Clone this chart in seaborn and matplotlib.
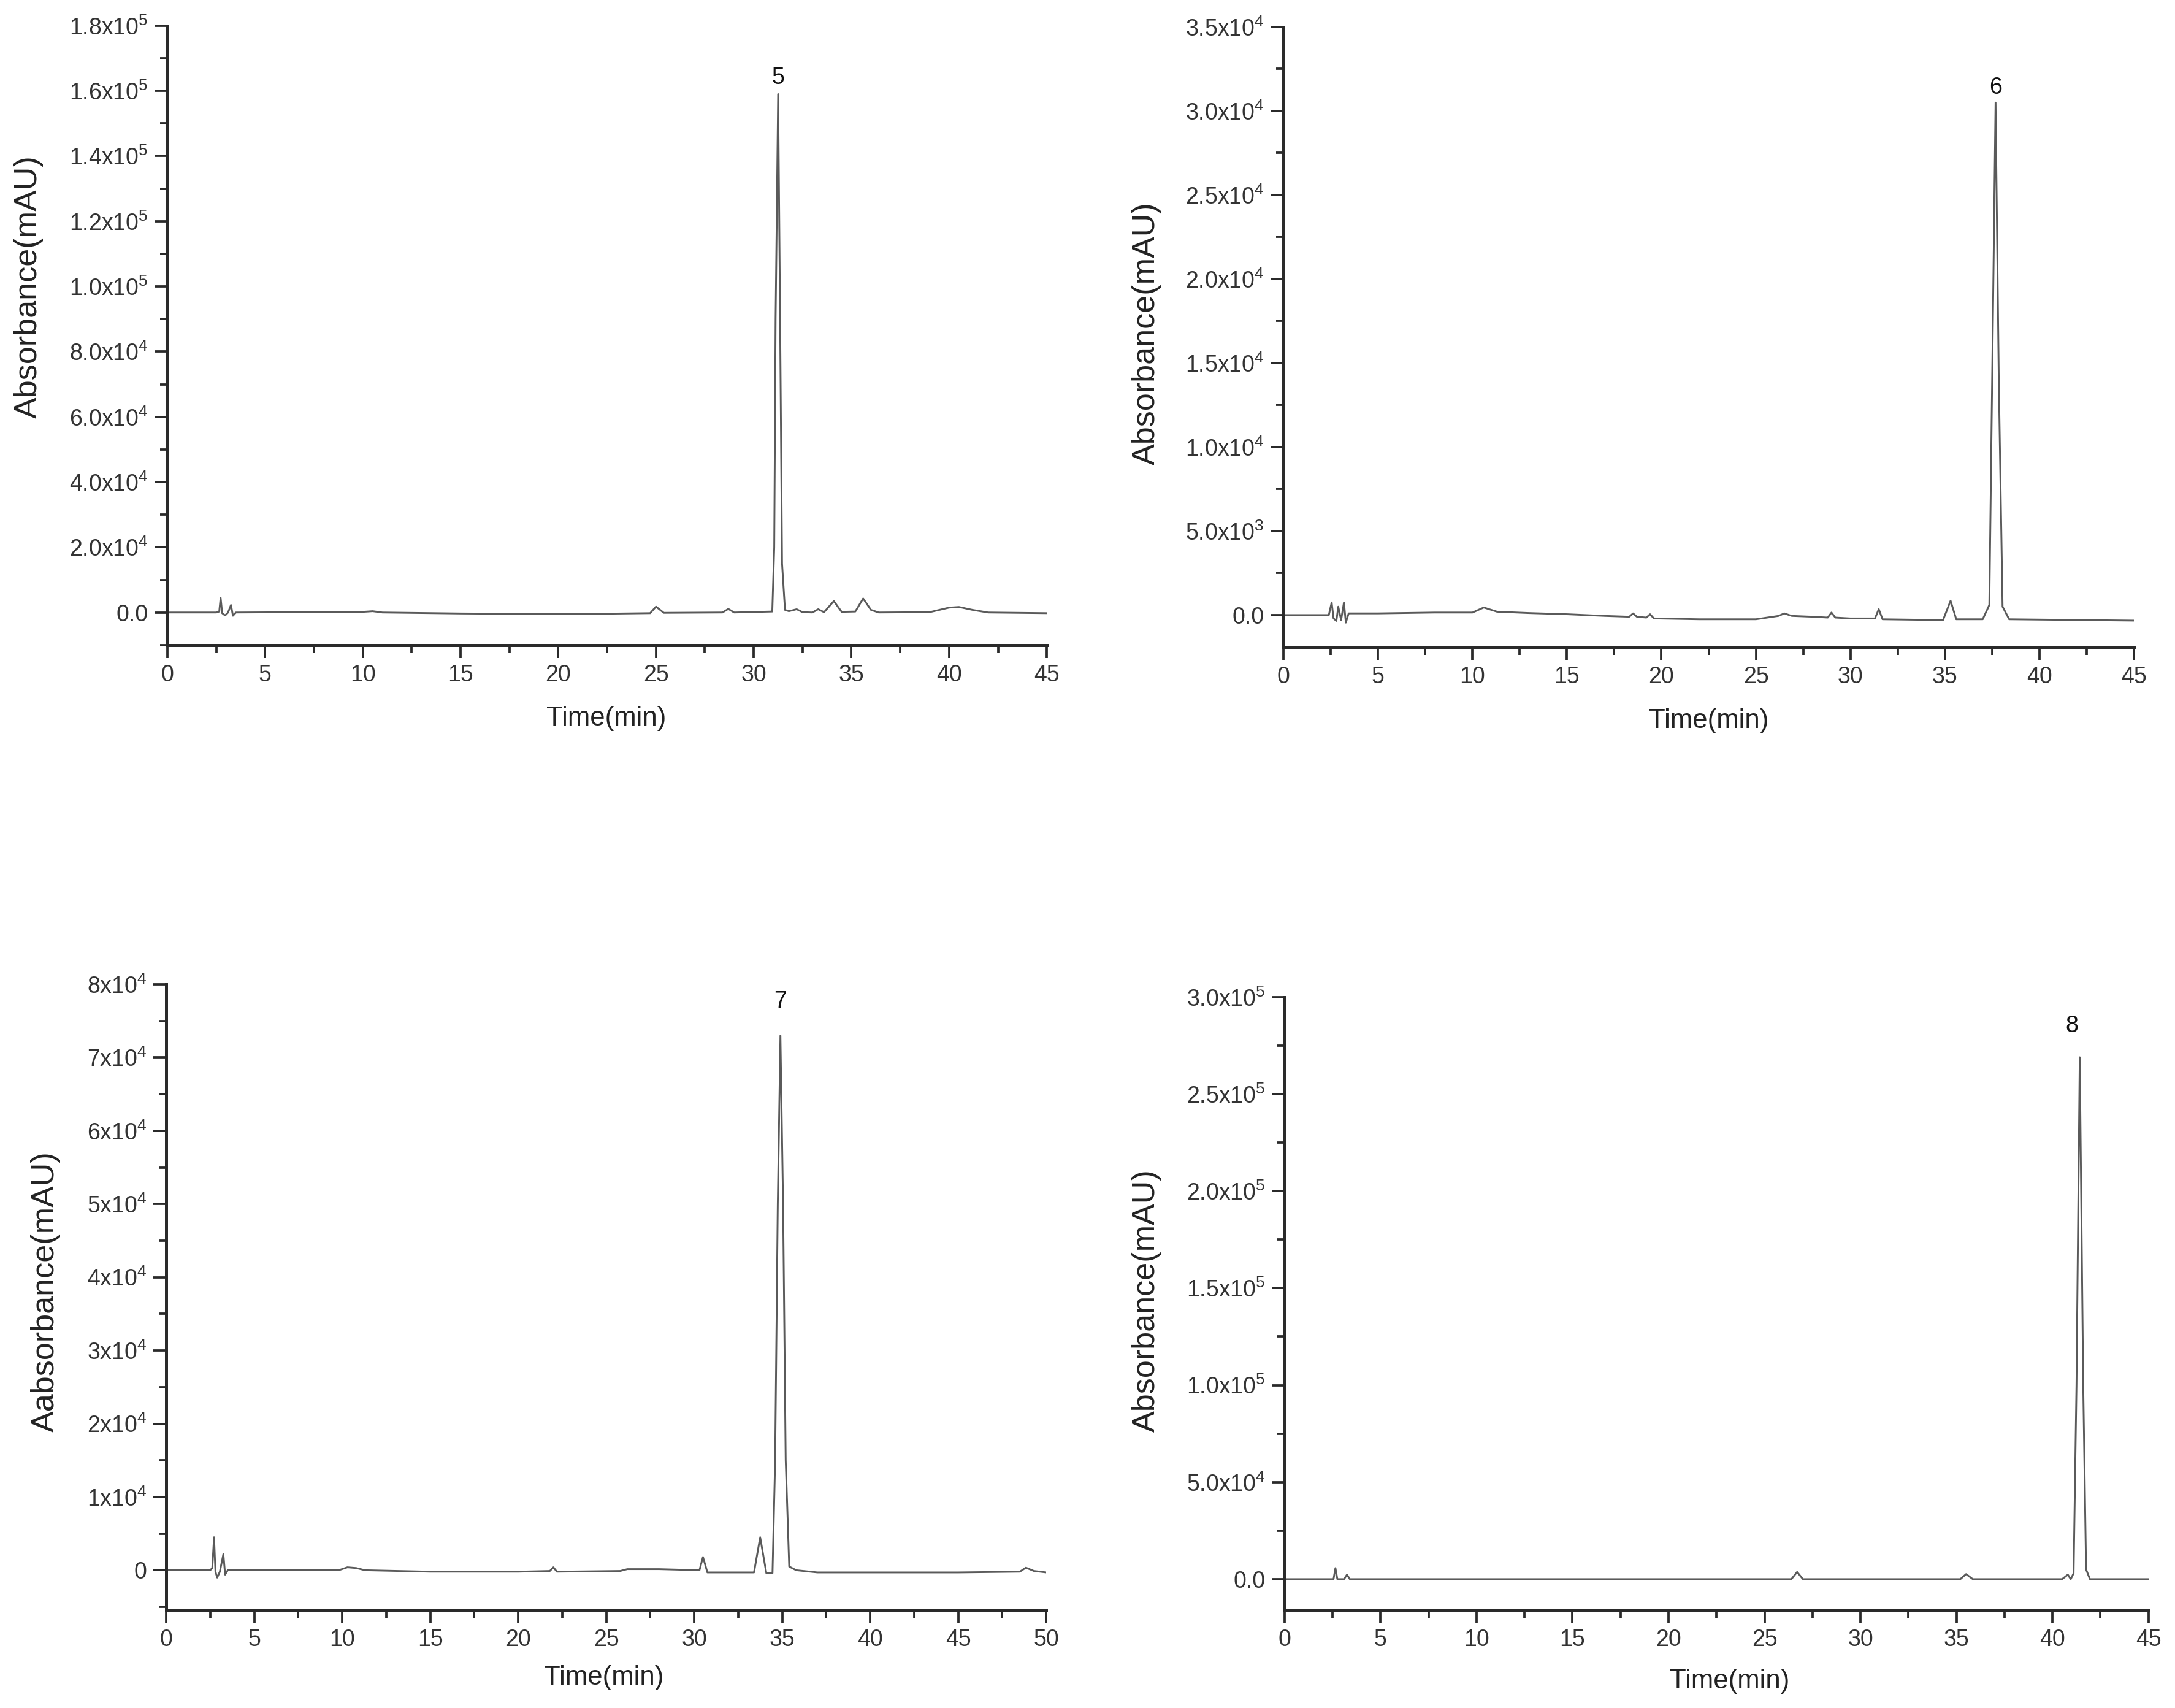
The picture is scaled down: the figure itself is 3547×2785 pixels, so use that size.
import numpy as np
import pandas as pd
import matplotlib
matplotlib.use("Agg")
import matplotlib.pyplot as plt
import seaborn as sns
from matplotlib.ticker import FixedLocator, MultipleLocator

sns.set_style("ticks")
plt.rcParams['font.family'] = ['Liberation Sans', 'DejaVu Sans']
plt.rcParams['mathtext.fontset'] = 'custom'
plt.rcParams['mathtext.rm'] = 'Liberation Sans'

#============================== data ==============================
# compound 5
t5 = [0, 2.5, 2.65, 2.72, 2.8, 2.95, 3.1, 3.25, 3.35, 3.5, 10, 10.5, 11, 15, 20, 22, 24.7, 25.0, 25.4,
      28.4, 28.7, 29.0, 30.95, 31.05, 31.12, 31.25, 31.35, 31.45, 31.6, 31.8, 32.2, 32.5, 33.0, 33.3,
      33.6, 34.1, 34.5, 35.2, 35.6, 36.0, 36.4, 39.0, 40.0, 40.5, 41.2, 42.0, 45.0]
a5 = [0, 0, 300, 4500, -200, -900, 0, 2300, -1000, 0, 200, 400, 0, -300, -500, -400, -200, 1800, -100,
      0, 1100, 0, 300, 20000, 90000, 159000, 90000, 15000, 800, 400, 1000, 100, 0, 1000,
      100, 3500, 200, 300, 4300, 800, 0, 100, 1500, 1700, 800, 0, -200]

# compound 6
t6 = [0, 2.4, 2.55, 2.65, 2.8, 2.9, 3.05, 3.2, 3.3, 3.45, 5, 8, 10, 10.6, 11.3, 13, 15, 17, 18.3, 18.5,
      18.7, 19.2, 19.4, 19.6, 22, 25, 26.2, 26.5, 26.9, 28, 28.8, 29.0, 29.2, 30.0, 31.3, 31.5, 31.7,
      34.9, 35.3, 35.6, 37.0, 37.35, 37.5, 37.68, 37.85, 38.05, 38.4, 45.0]
a6 = [0, 0, 750, -200, -350, 500, -300, 750, -450, 100, 100, 150, 150, 450, 200, 120, 50, -50, -100, 100,
      -100, -150, 50, -200, -250, -250, -50, 100, -50, -100, -150, 150, -150, -200, -200, 350, -250,
      -300, 850, -250, -250, 600, 14000, 30500, 14000, 500, -250, -330]

# compound 7
t7 = [0, 2.5, 2.62, 2.72, 2.8, 2.9, 3.05, 3.25, 3.35, 3.5, 9.8, 10.3, 10.8, 11.3, 15, 20, 21.8, 22.0,
      22.2, 25.8, 26.2, 28, 30.3, 30.5, 30.75, 33.4, 33.75, 34.1, 34.45, 34.6, 34.75, 34.9, 35.05,
      35.2, 35.4, 35.8, 37, 45, 48.5, 48.85, 49.3, 50]
a7 = [0, 0, 300, 4500, -200, -1000, -200, 2200, -600, 0, 0, 400, 300, 0, -200, -200, -100, 400,
      -200, -100, 150, 150, 0, 1800, -300, -300, 4500, -400, -400, 15000, 50000, 73000, 50000,
      15000, 500, 0, -300, -300, -200, 350, -100, -300]

# compound 8
t8 = [0, 2.55, 2.65, 2.75, 3.1, 3.25, 3.4, 26.4, 26.7, 27.0, 35.2, 35.5, 35.85, 40.5, 40.8, 40.95,
      41.1, 41.25, 41.42, 41.6, 41.75, 41.95, 45.0]
a8 = [0, 0, 5700, 0, 0, 2300, 0, 0, 3700, 0, 0, 2600, 0, 0, 2300, 0,
      3000, 100000, 269000, 100000, 5000, 0, 0]

peak_labels = ['5', '6', '7', '8']

ylabels = ['Absorbance(mAU)', 'Absorbance(mAU)', 'Aabsorbance(mAU)', 'Absorbance(mAU)']
xlabel = 'Time(min)'

yticks5 = [0, 2e4, 4e4, 6e4, 8e4, 1e5, 1.2e5, 1.4e5, 1.6e5, 1.8e5]
yticklabels5 = ['0.0', '2.0x10$^4$', '4.0x10$^4$', '6.0x10$^4$', '8.0x10$^4$', '1.0x10$^5$',
                '1.2x10$^5$', '1.4x10$^5$', '1.6x10$^5$', '1.8x10$^5$']
yticks6 = [0, 5e3, 1e4, 1.5e4, 2e4, 2.5e4, 3e4, 3.5e4]
yticklabels6 = ['0.0', '5.0x10$^3$', '1.0x10$^4$', '1.5x10$^4$', '2.0x10$^4$', '2.5x10$^4$',
                '3.0x10$^4$', '3.5x10$^4$']
yticks7 = [0, 1e4, 2e4, 3e4, 4e4, 5e4, 6e4, 7e4, 8e4]
yticklabels7 = ['0', '1x10$^4$', '2x10$^4$', '3x10$^4$', '4x10$^4$', '5x10$^4$', '6x10$^4$',
                '7x10$^4$', '8x10$^4$']
yticks8 = [0, 5e4, 1e5, 1.5e5, 2e5, 2.5e5, 3e5]
yticklabels8 = ['0.0', '5.0x10$^4$', '1.0x10$^5$', '1.5x10$^5$', '2.0x10$^5$', '2.5x10$^5$',
                '3.0x10$^5$']

xmax = [45, 45, 50, 45]
ymin = [-1.0e4, -1.9e3, -5.4e3, -1.58e4]

#============================== layout ==============================
fig = plt.figure(figsize=(3547 / 300, 2785 / 300), dpi=300)
rects = [[0.0770, 0.6223, 0.4043, 0.3627],
         [0.5901, 0.6212, 0.3910, 0.3630],
         [0.0764, 0.0575, 0.4046, 0.3662],
         [0.5906, 0.0575, 0.3972, 0.3587]]
ylab_pos = [(-0.158, 0.578), (-0.161, 0.506), (-0.137, 0.509), (-0.160, 0.505)]
xlab_pos = [(0.499, -0.118), (0.50, -0.119), (0.497, -0.108), (0.515, -0.117)]
lab_off = [(0, 2), (0, 1.5), (0, 9), (-3, 8)]

traces = [(t5, a5), (t6, a6), (t7, a7), (t8, a8)]
ytick_sets = [(yticks5, yticklabels5), (yticks6, yticklabels6),
              (yticks7, yticklabels7), (yticks8, yticklabels8)]

line_col = '#5a5a5a'
axis_col = '#2a2a2a'

for i in range(4):
    ax = fig.add_axes(rects[i])
    t, a = traces[i]
    df = pd.DataFrame({'time': t, 'abs': a})
    sns.lineplot(data=df, x='time', y='abs', ax=ax, color=line_col, linewidth=0.7,
                 estimator=None, sort=False)

    ticks, labels = ytick_sets[i]
    ax.set_xlim(0, xmax[i])
    ax.set_ylim(ymin[i], ticks[-1])
    ax.xaxis.set_major_locator(MultipleLocator(5))
    ax.xaxis.set_minor_locator(MultipleLocator(2.5))
    ax.yaxis.set_major_locator(FixedLocator(ticks))
    ax.set_yticklabels(labels)
    step = ticks[1] - ticks[0]
    ax.yaxis.set_minor_locator(FixedLocator([v + step / 2 for v in ticks[:-1]] + [-step / 2]))

    sns.despine(ax=ax)
    for s in ['left', 'bottom']:
        ax.spines[s].set_linewidth(1.2)
        ax.spines[s].set_color(axis_col)
    ax.tick_params(which='major', direction='out', length=5, width=0.9, color=axis_col,
                   labelcolor='#333333', pad=2.5)
    ax.tick_params(which='minor', direction='out', length=3, width=0.9, color=axis_col)
    ax.tick_params(axis='y', labelsize=9)
    ax.tick_params(axis='x', labelsize=9)

    ax.set_ylabel(ylabels[i], fontsize=12.5, color='#222222', va='center')
    ax.yaxis.set_label_coords(*ylab_pos[i])
    ax.set_xlabel(xlabel, fontsize=10.5, color='#222222', va='center')
    ax.xaxis.set_label_coords(*xlab_pos[i])

    k = int(np.argmax(a))
    ax.annotate(peak_labels[i], xy=(t[k], a[k]), xytext=lab_off[i], textcoords='offset points',
                ha='center', va='bottom', fontsize=9, color='#111111')

fig.savefig('out.png', dpi=300)
